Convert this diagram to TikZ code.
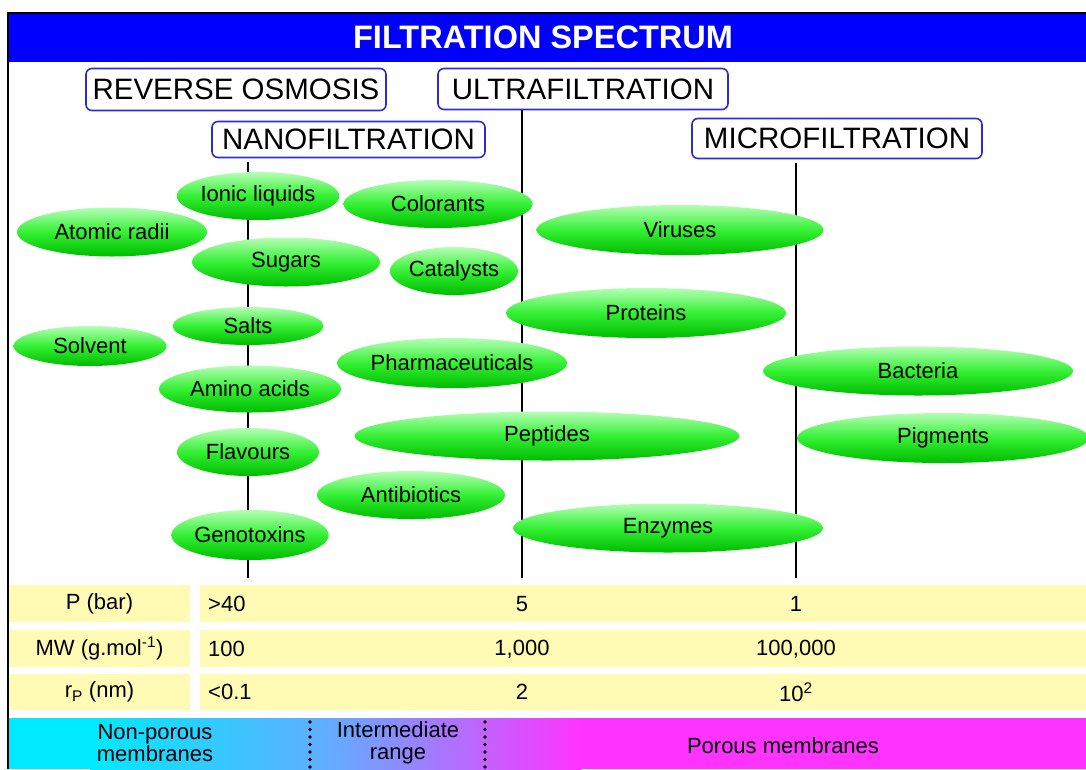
\documentclass[tikz,border=0pt]{standalone}
\usepackage{fontspec}
\setmainfont{Liberation Sans}
\usetikzlibrary{positioning, shapes.geometric}
\definecolor{Head}{HTML}{0000FF}
\definecolor{Frame}{HTML}{2B2BD8}
\definecolor{Cream}{HTML}{FFFBB4}
\definecolor{GreenTop}{HTML}{B4FFB4}
\definecolor{GreenMid}{HTML}{33F033}
\definecolor{GreenBot}{HTML}{00BC00}
\definecolor{Cyan}{HTML}{00EAFF}
\definecolor{Sky}{HTML}{66AAFF}
\definecolor{Magenta}{HTML}{FF33FF}
\tikzset{
    procbox/.style={rectangle, rounded corners=6pt, draw=Frame, line width=1.6pt, fill=white, minimum height=41pt, inner xsep=4pt, font=\fontsize{29.5}{32}\selectfont},
    blob/.style={ellipse, inner sep=0pt, top color=GreenTop, bottom color=GreenBot, middle color=GreenMid, font=\fontsize{22}{24}\selectfont},
    sz/.style 2 args={minimum width=#1pt, minimum height=#2pt},
    rowcell/.style={rectangle, fill=Cream, inner sep=0pt, minimum height=37pt, font=\fontsize{22}{24}\selectfont},
    celltext/.style={inner sep=0pt, font=\fontsize{22}{22}\selectfont},
    colline/.style={line width=2.5pt, black, shorten <=4pt},
    divider/.style={line width=3.8pt, dash pattern=on 0pt off 7.5pt, line cap=round},
}

\begin{document}
\begin{tikzpicture}[x=1pt, y=-1pt]
    \useasboundingbox (0,0) rectangle (1086,769);

    % Cornice e titolo
    \node[fill=Head, text=white, inner sep=0pt, minimum width=1078pt, minimum height=48pt, font=\fontsize{32.5}{36}\selectfont\bfseries] (title) at (548,37.5) {};
    \node[text=white, inner sep=0pt, font=\fontsize{32.5}{36}\selectfont\bfseries] (titletext) at (543,37.5) {FILTRATION SPECTRUM};
    \draw[line width=2.5pt] (8,769) -- (8,13) -- (1086,13);

    % Processi
    \node[procbox, sz={300}{42}] (ro) at (236,89.5) {REVERSE OSMOSIS};
    \node[procbox, sz={290}{41}] (uf) at (583,89) {ULTRAFILTRATION};
    \node[procbox, sz={273}{36}] (nf) at (348.5,139.5) {NANOFILTRATION};
    \node[procbox, sz={290}{40}] (mf) at (837,138.5) {MICROFILTRATION};

    % Linee di taglio
    \coordinate (nfcol) at (248,578);
    \coordinate (ufcol) at (522,578);
    \coordinate (mfcol) at (796,578);
    \draw[colline] (nf.south -| nfcol) -- (nfcol);
    \draw[colline, shorten <=0pt] (uf.south -| ufcol) -- (ufcol);
    \draw[colline] (mf.south -| mfcol) -- (mfcol);

    % Specie
    \node[blob, sz={157}{48}] (ionic) at (258,196) {Ionic liquids};
    \node[blob, sz={189}{48}] (colorants) at (438,204) {Colorants};
    \node[blob, sz={190}{49}] (atomic) at (112,232) {Atomic radii};
    \node[blob, sz={287}{50}] (viruses) at (680,230) {Viruses};
    \node[blob, sz={188}{49}] (sugars) at (286,262) {Sugars};
    \node[blob, sz={118}{48}] (catalysts) at (454,271) {Catalysts};
    \node[blob, sz={280}{50}] (proteins) at (646,313) {Proteins};
    \node[blob, sz={151}{38}] (salts) at (248,326) {Salts};
    \node[blob, sz={153}{40}] (solvent) at (90,346) {Solvent};
    \node[blob, sz={225}{50}] (pharma) at (452,363) {Pharmaceuticals};
    \node[blob, sz={310}{49}] (bacteria) at (918,371) {Bacteria};
    \node[blob, sz={182}{47}] (amino) at (250,389) {Amino acids};
    \node[blob, sz={385}{49}] (peptides) at (547,436) {Peptides};
    \node[blob, sz={292}{50}] (pigments) at (943,438) {Pigments};
    \node[blob, sz={142}{48}] (flavours) at (248,452) {Flavours};
    \node[blob, sz={188}{48}] (antibio) at (411,495) {Antibiotics};
    \node[blob, sz={310}{49}] (enzymes) at (668,528) {Enzymes};
    \node[blob, sz={156}{50}] (genotox) at (250,535) {Genotoxins};

    % Tabella
    \node[rowcell, minimum width=181pt] (plab) at (99.5,603.5) {P (bar)};
    \node[rowcell, minimum width=181pt] (mwlab) at (99.5,648.5) {MW (g.mol\textsuperscript{-1})};
    \node[rowcell, minimum width=181pt, minimum height=36pt] (rlab) at (99.5,692) {r\textsubscript{P} (nm)};
    \node[rowcell, minimum width=886pt] (prow) at (643,603.5) {};
    \node[rowcell, minimum width=886pt] (mwrow) at (643,648.5) {};
    \node[rowcell, minimum width=886pt, minimum height=36pt] (rrow) at (643,692) {};
    \node[celltext, anchor=west] (pnf) at (208,604) {>40};
    \node[celltext] (puf) at (522,604) {5};
    \node[celltext] (pmf) at (796,604) {1};
    \node[celltext, anchor=west] (mwnf) at (208,649) {100};
    \node[celltext] (mwuf) at (522,649) {1,000};
    \node[celltext] (mwmf) at (796,649) {100,000};
    \node[celltext, anchor=west] (rnf) at (208,692) {<0.1};
    \node[celltext] (ruf) at (522,692) {2};
    \node[celltext] (rmf) at (796,692) {10\textsuperscript{2}};

    % Tipo di membrana
    \fill[Cyan] (9.25,718) rectangle (91,769);
    \shade[left color=Cyan, right color=Sky] (90,718) rectangle (336,769);
    \shade[left color=Sky, right color=Magenta] (335,718) rectangle (581,769);
    \fill[Magenta] (580,718) rectangle (1086,769);
    \draw[divider] (310,722) -- (310,769);
    \draw[divider] (485,722) -- (485,769);
    \node[celltext, align=center] (nonporous) at (155,743) {Non-porous\\membranes};
    \node[celltext, align=center] (intermediate) at (398,743) {Intermediate\\range};
    \node[celltext] (porous) at (783,746) {Porous membranes};
\end{tikzpicture}
\end{document}
